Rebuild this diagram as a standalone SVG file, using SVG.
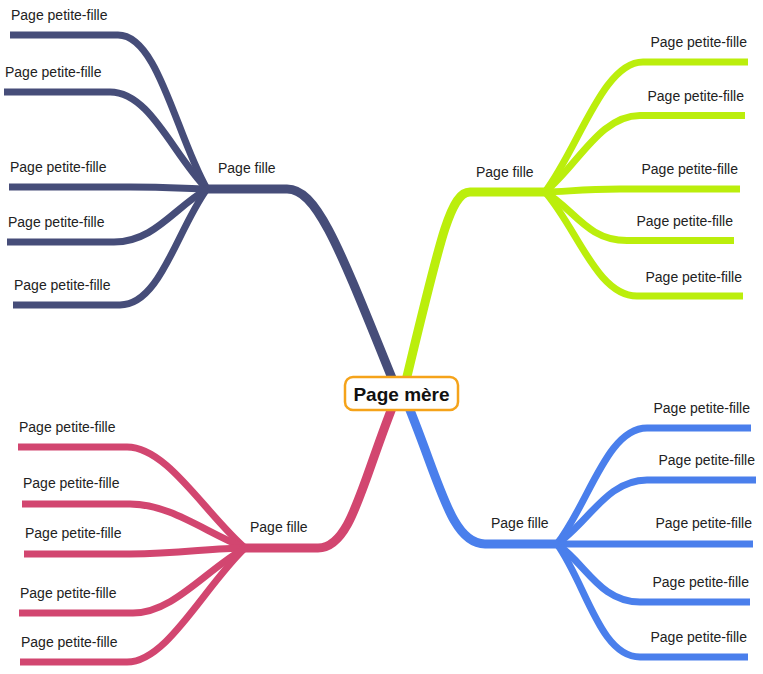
<svg xmlns="http://www.w3.org/2000/svg" width="763" height="674" viewBox="0 0 763 674">
<style>
.l{fill:none;stroke-linecap:butt;stroke-linejoin:round}
.main{stroke-width:9}
.sub{stroke-width:7}
.navy{stroke:#464d79}
.lime{stroke:#bbee0c}
.blue{stroke:#4a7fec}
.pink{stroke:#d24670}
text{font-family:"Liberation Sans",Arial,sans-serif;font-size:14px;fill:#222}
.end{text-anchor:end}
.root{font-size:19px;font-weight:bold;fill:#111;text-anchor:middle}
</style>
<rect width="763" height="674" fill="#fff"/>
<g id="connectors">
  <path class="l main navy" d="M207 189 L287 189 C318 189 340 250 398 393"/>
  <path class="l main lime" d="M545 192 L470 192 C450 192 440 240 403 393"/>
  <path class="l main blue" d="M557 544 L485 544 C450 544 440 480 403 393"/>
  <path class="l main pink" d="M245 548 L318 548 C352 548 362 480 398 393"/>

  <path class="l sub navy" d="M10 35 L118 35 C158 35 176 135 207 189"/>
  <path class="l sub navy" d="M4 92 L110 92 C150 92 173 155 207 189"/>
  <path class="l sub navy" d="M9 187 L130 187 C170 187 190 189 207 189"/>
  <path class="l sub navy" d="M7 242 L114 242 C154 242 174 208 207 189"/>
  <path class="l sub navy" d="M13 305 L120 305 C160 305 177 230 207 189"/>

  <path class="l sub lime" d="M748 62 L643 62 C603 62 579 147 545 192"/>
  <path class="l sub lime" d="M745 115.5 L640 115.5 C600 115.5 578 165 545 192"/>
  <path class="l sub lime" d="M740 189 L620 189 C580 189 565 192 545 192"/>
  <path class="l sub lime" d="M734 240.5 L627 240.5 C587 240.5 574 209 545 192"/>
  <path class="l sub lime" d="M743 296 L637 296 C597 296 577 228 545 192"/>

  <path class="l sub blue" d="M751 428 L647 428 C607 428 589 503 557 544"/>
  <path class="l sub blue" d="M756 480 L647 480 C607 480 589 522 557 544"/>
  <path class="l sub blue" d="M753 544 L557 544"/>
  <path class="l sub blue" d="M750 602 L640 602 C600 602 586 564 557 544"/>
  <path class="l sub blue" d="M748 657 L640 657 C600 657 586 584 557 544"/>

  <path class="l sub pink" d="M18 447 L127 447 C167 447 204 512 245 548"/>
  <path class="l sub pink" d="M22 504 L130 504 C170 504 205 532 245 548"/>
  <path class="l sub pink" d="M24 554 L130 554 C180 554 210 548 245 548"/>
  <path class="l sub pink" d="M19 613 L133 613 C173 613 206 570 245 548"/>
  <path class="l sub pink" d="M20 662 L127 662 C167 662 204 587 245 548"/>
</g>

<g id="root">
  <rect x="345" y="377" width="113" height="33" rx="8" ry="8" fill="#fff" stroke="#f5a31a" stroke-width="2.5"/>
  <text class="root" x="401.5" y="400.5">Page mère</text>
</g>

<g id="child-navy"><text x="218" y="173">Page fille</text></g>
<g id="child-lime"><text x="476" y="177">Page fille</text></g>
<g id="child-blue"><text x="491" y="528">Page fille</text></g>
<g id="child-pink"><text x="250" y="532">Page fille</text></g>

<g id="gc-navy-1"><text x="11" y="20">Page petite-fille</text></g>
<g id="gc-navy-2"><text x="5" y="77">Page petite-fille</text></g>
<g id="gc-navy-3"><text x="10" y="172">Page petite-fille</text></g>
<g id="gc-navy-4"><text x="8" y="227">Page petite-fille</text></g>
<g id="gc-navy-5"><text x="14" y="290">Page petite-fille</text></g>

<g id="gc-lime-1"><text class="end" x="747" y="47">Page petite-fille</text></g>
<g id="gc-lime-2"><text class="end" x="744" y="101">Page petite-fille</text></g>
<g id="gc-lime-3"><text class="end" x="738" y="174">Page petite-fille</text></g>
<g id="gc-lime-4"><text class="end" x="733" y="226">Page petite-fille</text></g>
<g id="gc-lime-5"><text class="end" x="742" y="282">Page petite-fille</text></g>

<g id="gc-blue-1"><text class="end" x="750" y="413">Page petite-fille</text></g>
<g id="gc-blue-2"><text class="end" x="755" y="465">Page petite-fille</text></g>
<g id="gc-blue-3"><text class="end" x="752" y="528">Page petite-fille</text></g>
<g id="gc-blue-4"><text class="end" x="749" y="587">Page petite-fille</text></g>
<g id="gc-blue-5"><text class="end" x="747" y="642">Page petite-fille</text></g>

<g id="gc-pink-1"><text x="19" y="432">Page petite-fille</text></g>
<g id="gc-pink-2"><text x="23" y="488">Page petite-fille</text></g>
<g id="gc-pink-3"><text x="25" y="538">Page petite-fille</text></g>
<g id="gc-pink-4"><text x="20" y="598">Page petite-fille</text></g>
<g id="gc-pink-5"><text x="21" y="647">Page petite-fille</text></g>
</svg>
